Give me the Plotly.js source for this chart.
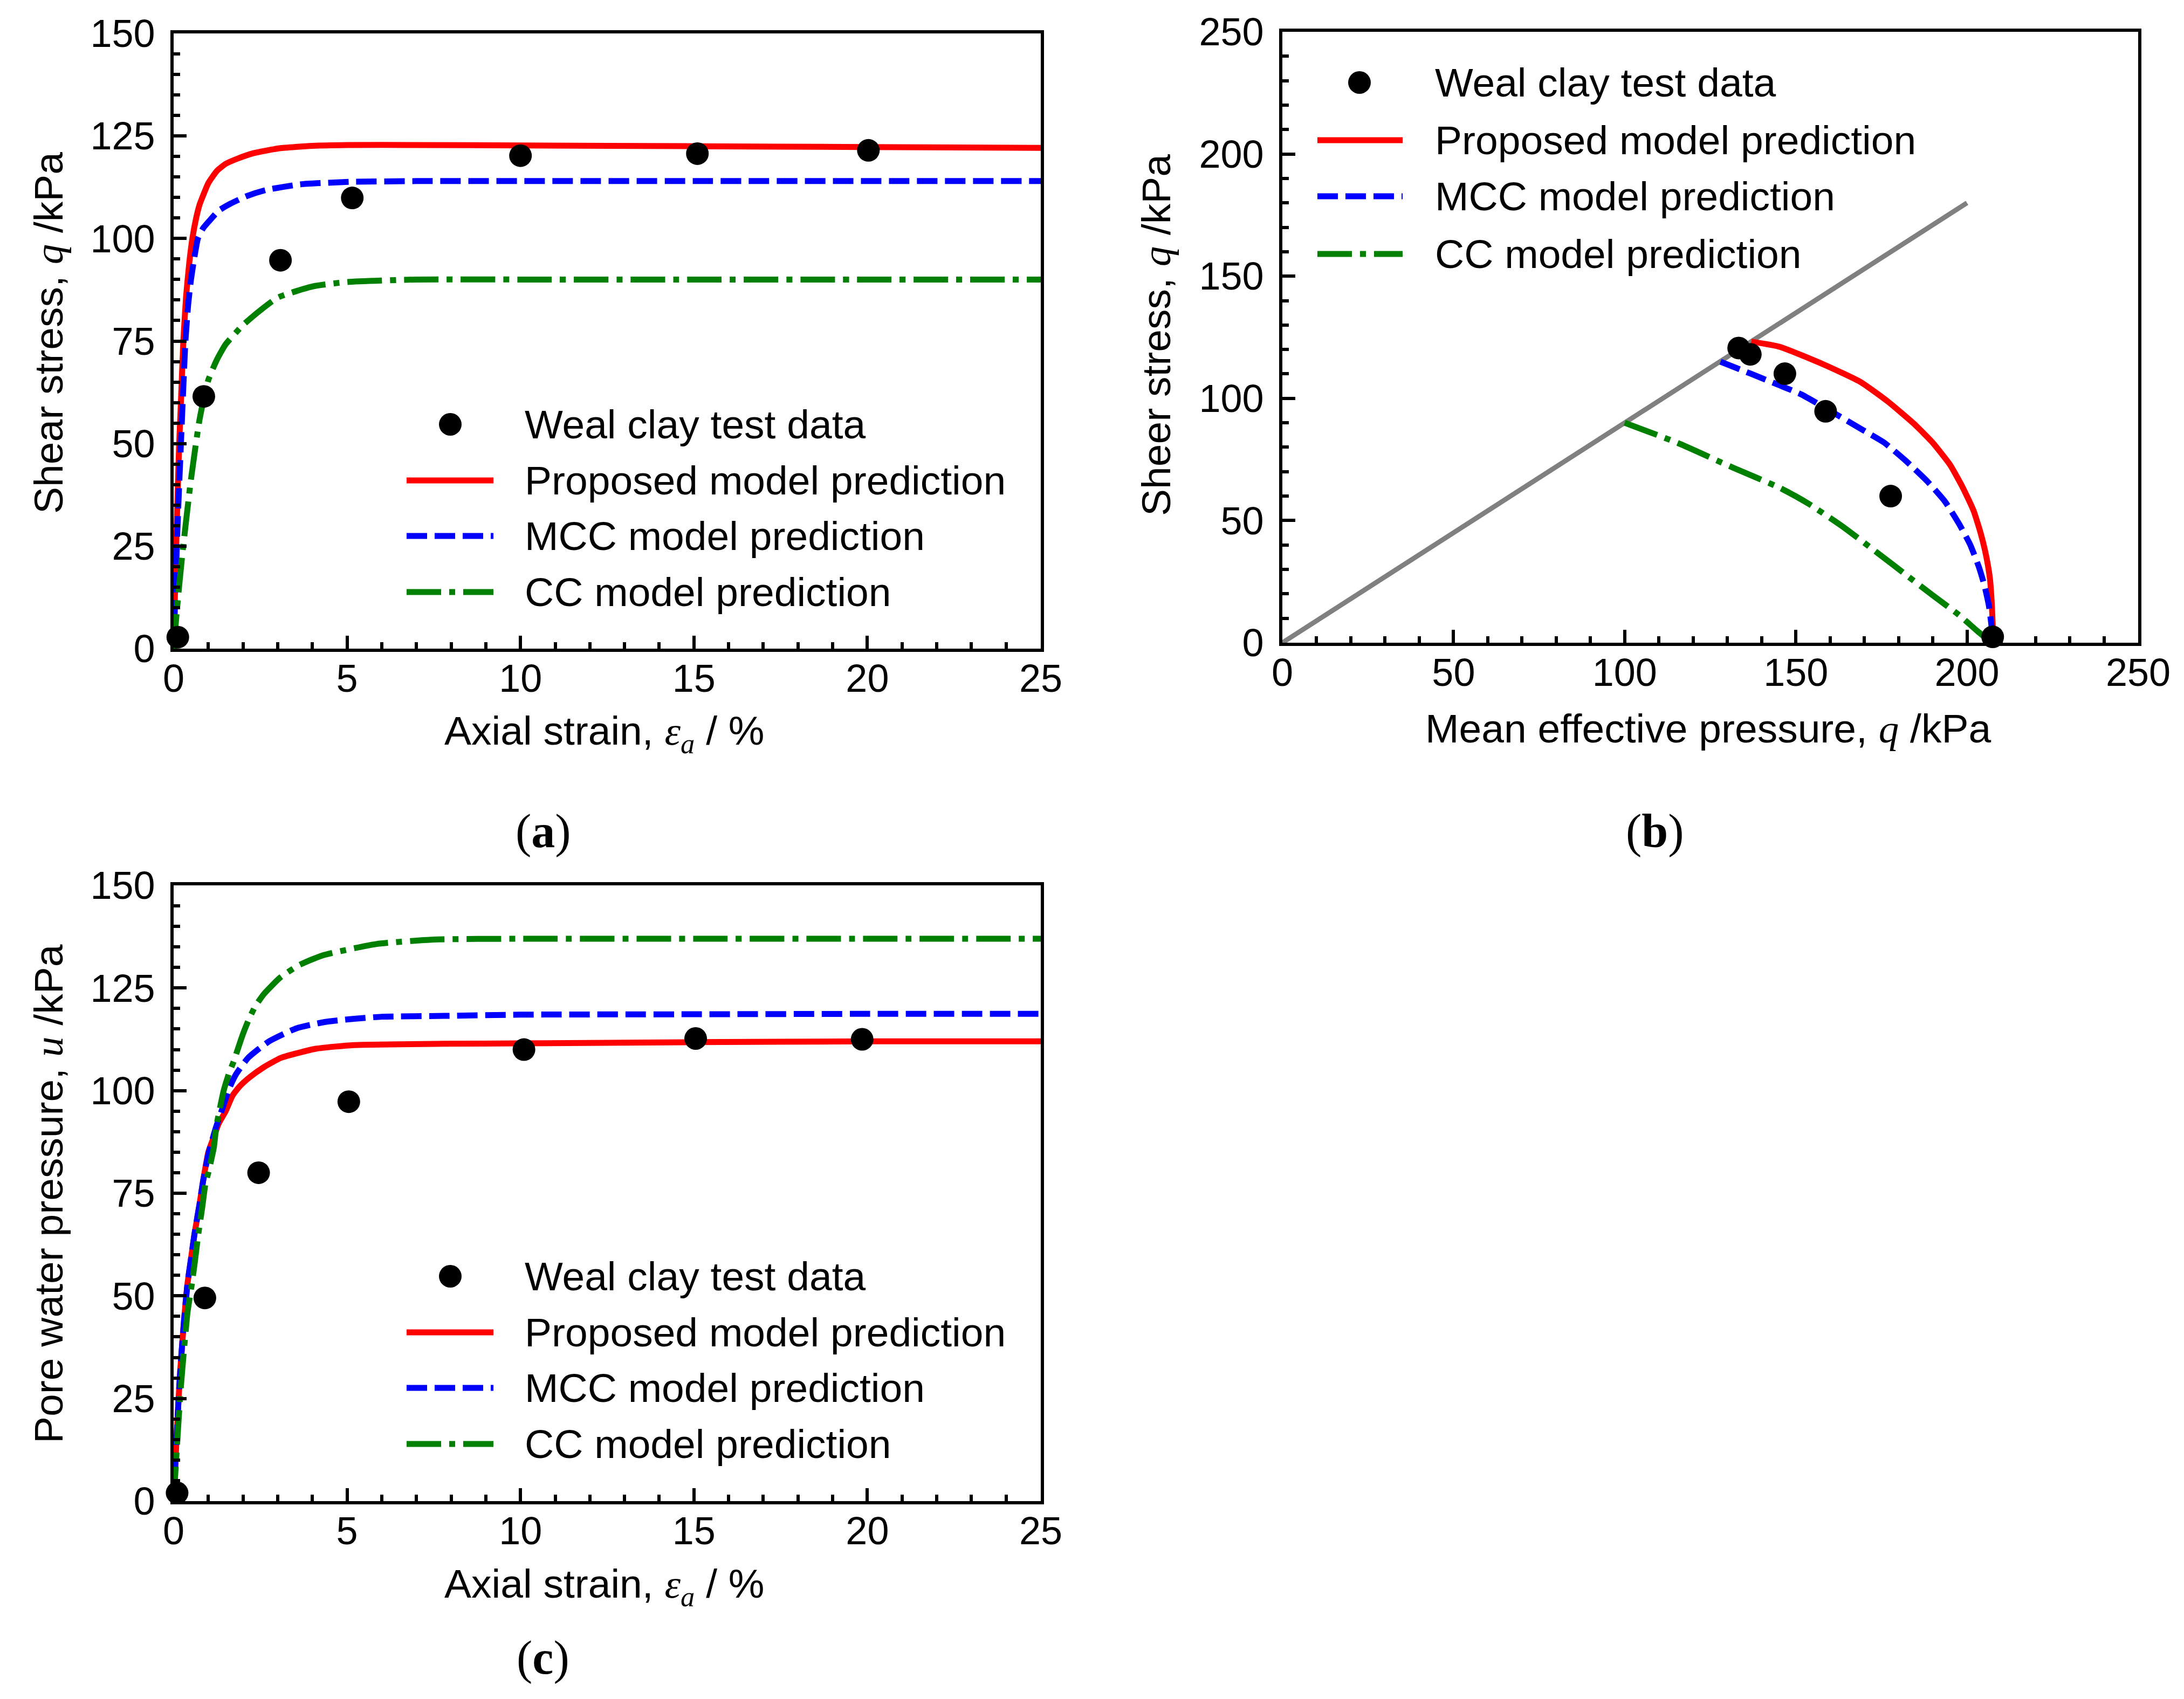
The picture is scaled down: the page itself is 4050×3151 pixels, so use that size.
<!DOCTYPE html>
<html>
<head>
<meta charset="utf-8">
<script src="https://cdn.plot.ly/plotly-3.0.1.min.js"></script>
<style>
  body { margin: 0; background: #fff; }
  #chart { width: 4050px; height: 3151px; }
</style>
</head>
<body>
<div id="chart"></div>
<script>
var W = 4050, H = 3151;

/* (a) shear stress vs axial strain */
var strainTest_a = [0.12, 0.87, 3.08, 5.15, 10.0, 15.1, 20.03];
var qTest_a = [2.8, 61.5, 94.7, 109.9, 120.2, 120.7, 121.5];
var strainProp_a = [0, 0.04, 0.08, 0.12, 0.16, 0.2, 0.28, 0.36, 0.45, 0.54, 0.65, 0.75, 0.85, 1.0, 1.25, 1.5, 1.85, 2.3, 3.05, 4, 5, 7, 10, 15, 20, 25];
var qProp_a = [0, 14, 27, 39, 50, 58, 75, 86, 94, 100, 105, 108.3, 110.5, 113.5, 116.5, 118.2, 119.5, 120.8, 122, 122.6, 122.8, 122.8, 122.7, 122.5, 122.3, 122.1];
var strainMcc_a = [0, 0.05, 0.1, 0.15, 0.2, 0.27, 0.34, 0.42, 0.5, 0.6, 0.7, 0.85, 1.04, 1.3, 1.64, 2.1, 2.65, 3.65, 5.05, 7, 10, 15, 20, 25];
var qMcc_a = [0, 14, 27, 38, 48, 62, 75, 84, 90, 95.5, 100, 102.5, 104.4, 106.8, 108.5, 110.3, 111.8, 113.2, 113.8, 114, 114, 114, 114, 114];
var strainCc_a = [0, 0.1, 0.25, 0.5, 0.75, 1, 1.25, 1.5, 2, 2.5, 3, 4, 5, 7, 10, 15, 20, 25];
var qCc_a = [0, 10, 23, 41.3, 56, 65.5, 70.5, 74.2, 78.9, 82.5, 85.6, 88.3, 89.4, 90, 90, 90, 90, 90];

/* (b) stress paths */
var pTest_b = [133.3, 136.7, 146.8, 158.7, 177.7, 207.5];
var qTest_b = [120.6, 118, 110.1, 94.7, 60, 2.4];
var cslP = [0, 200];
var cslQ = [0, 180];
var pProp_b = [137, 145.3, 158.4, 168.9, 176.8, 184.6, 189.9, 195.1, 198.8, 201.9, 204, 205.6, 206.7, 207.2, 207.5, 207.6];
var qProp_b = [123.2, 121.1, 113.7, 106.7, 98.8, 89.5, 82, 72.7, 63.4, 54.1, 44.8, 35.5, 26.2, 16.9, 7.6, 0];
var pMcc_b = [128, 137, 145.3, 151.6, 161, 168.9, 175.7, 182, 188.3, 193.5, 197.7, 200.9, 203.5, 205.1, 206.4, 207.1, 207.5];
var qMcc_b = [115, 110, 105.3, 101.6, 94.1, 87.6, 82, 74.6, 66.2, 57.9, 48.6, 40.2, 30.9, 23.4, 15.1, 7.6, 0];
var pCc_b = [100, 115.4, 131.7, 145.3, 153.7, 163.6, 174.1, 182, 189.9, 197.7, 203, 207.2];
var qCc_b = [90, 81.8, 71.6, 63.4, 56.9, 47.6, 36.5, 28, 19.5, 11.3, 4.8, 0];

/* (c) pore water pressure vs axial strain */
var strainTest_c = [0.1, 0.9, 2.45, 5.05, 10.1, 15.05, 19.85];
var uTest_c = [2, 49.5, 80, 97.3, 110, 112.7, 112.5];
var strainProp_c = [0, 0.05, 0.1, 0.15, 0.2, 0.3, 0.4, 0.5, 0.6, 0.75, 0.85, 1.0, 1.15, 1.3, 1.5, 1.7, 1.9, 2.2, 2.6, 3.1, 4.1, 5.2, 7.8, 10, 15, 20, 25];
var uProp_c = [0, 9, 18, 26, 33, 44, 53, 59, 65, 72.5, 78, 85, 88.5, 92, 95, 98.8, 101, 103.3, 105.7, 108, 110.2, 111.1, 111.4, 111.5, 111.8, 112, 112];
var strainMcc_c = [0, 0.05, 0.1, 0.15, 0.2, 0.3, 0.4, 0.5, 0.6, 0.75, 0.85, 1.0, 1.2, 1.4, 1.6, 1.8, 2.15, 2.75, 3.55, 4.35, 5.2, 6, 7.8, 10, 15, 20, 25];
var uMcc_c = [0, 9, 18, 26, 33, 44, 53, 59, 65, 72.5, 78, 84.5, 90.5, 95.5, 100.5, 104, 108, 112, 115.2, 116.7, 117.5, 118, 118.2, 118.5, 118.6, 118.7, 118.7];
var strainCc_c = [0, 0.05, 0.1, 0.2, 0.3, 0.4, 0.53, 0.61, 0.71, 0.82, 0.92, 1.0, 1.16, 1.23, 1.44, 1.6, 1.73, 1.99, 2.15, 2.35, 2.61, 3.08, 3.6, 4.28, 5.84, 7.5, 10, 15, 20, 25];
var uCc_c = [0, 7, 14, 27, 37, 46, 53.2, 58.2, 65, 71.3, 77.5, 80, 86.2, 91.2, 99.9, 104.3, 107.1, 113.6, 117, 120.5, 123.6, 127.6, 130.5, 132.9, 135.7, 136.8, 137, 137, 137, 137];

var legendNames = ['Weal clay test data', 'Proposed model prediction', 'MCC model prediction', 'CC model prediction'];

var SANS = 'Liberation Sans, Arial, sans-serif';
var SERIF = 'Liberation Serif, Times New Roman, serif';
var RED = '#ff0000', BLUE = '#0000ff', GREEN = '#008000', GRAY = '#808080';
var DASH_MCC = '38px,14px';
var DASH_CC = '64px,15px,11px,15px';
var LW = 11;
var TXT = 75;

function px(x) { return x / W; }
function py(y) { return 1 - y / H; }
function it(s) { return '<span style="font-family:' + SERIF + '"><i>' + s + '</i></span>'; }

function lineTrace(x, y, color, dash, xa, ya) {
    return { x: x, y: y, xaxis: xa, yaxis: ya, type: 'scatter', mode: 'lines',
             line: { color: color, width: LW, dash: dash, shape: 'spline', smoothing: 0.5 },
             hoverinfo: 'skip', showlegend: false };
}
function dotTrace(x, y, xa, ya) {
    return { x: x, y: y, xaxis: xa, yaxis: ya, type: 'scatter', mode: 'markers', cliponaxis: false,
             marker: { color: '#000', size: 42 }, hoverinfo: 'skip', showlegend: false };
}

function axis(domain, range, dtick, minorDtick, anchor, standoff) {
    return {
        domain: domain, range: range, dtick: dtick, tick0: 0, anchor: anchor,
        ticks: 'inside', ticklen: 24, tickwidth: 6, tickcolor: '#000',
        minor: { ticks: 'inside', ticklen: 12, tickwidth: 6, tickcolor: '#000', dtick: minorDtick, showgrid: false },
        showline: true, linewidth: 6, linecolor: '#000', mirror: true,
        showgrid: false, zeroline: false, fixedrange: true,
        ticklabelstandoff: standoff,
        tickfont: { family: SANS, size: 72, color: '#000' }
    };
}

var shapes = [];
var annotations = [];

/* hand made legend so the sample lines are as long as in the figure */
function legend(markX, lineX0, lineX1, textX, ys) {
    shapes.push({ type: 'circle', xref: 'paper', yref: 'paper', xsizemode: 'pixel', ysizemode: 'pixel',
                  xanchor: px(markX), yanchor: py(ys[0]), x0: -21, x1: 21, y0: -21, y1: 21,
                  fillcolor: '#000', line: { width: 0 } });
    var styles = [[RED, 'solid'], [BLUE, DASH_MCC], [GREEN, DASH_CC]];
    for (var i = 0; i < 3; i++) {
        shapes.push({ type: 'line', xref: 'paper', yref: 'paper',
                      x0: px(lineX0), x1: px(lineX1), y0: py(ys[i + 1]), y1: py(ys[i + 1]),
                      line: { color: styles[i][0], width: LW, dash: styles[i][1] } });
    }
    for (var j = 0; j < 4; j++) {
        annotations.push({ text: legendNames[j], xref: 'paper', yref: 'paper', x: px(textX), y: py(ys[j]),
                           xanchor: 'left', yanchor: 'middle', showarrow: false,
                           font: { family: SANS, size: TXT, color: '#000' } });
    }
}

function label(text, x, y, angle, font) {
    annotations.push({ text: text, xref: 'paper', yref: 'paper', x: px(x), y: py(y),
                       xanchor: 'center', yanchor: 'middle', showarrow: false, textangle: angle || 0,
                       font: font || { family: SANS, size: TXT, color: '#000' } });
}

legend(835, 754, 915, 971, [787, 891, 994, 1098]);
legend(2521, 2443, 2601, 2659, [153, 260, 364, 471]);
legend(835, 754, 915, 971, [2367, 2471, 2574, 2678]);

label('Axial strain, ' + it('ε') + '<sub>' + it('a') + '</sub> / %', 1121, 1361);
label('Shear stress, ' + it('q') + ' /kPa', 90, 618, -90);
label('Mean effective pressure, ' + it('q') + ' /kPa', 3167, 1351);
label('Sheer stress, ' + it('q') + ' /kPa', 2144, 622, -90);
label('Axial strain, ' + it('ε') + '<sub>' + it('a') + '</sub> / %', 1121, 2942);
label('Pore water pressure, ' + it('u') + ' /kPa', 90, 2214, -90);

var capFont = { family: SERIF, size: 88, color: '#000' };
label('(<b>a</b>)', 1007, 1542, 0, capFont);
label('(<b>b</b>)', 3069, 1542, 0, capFont);
label('(<b>c</b>)', 1007, 3074, 0, capFont);

var data = [
    lineTrace(strainProp_a, qProp_a, RED, 'solid', 'x', 'y'),
    lineTrace(strainMcc_a, qMcc_a, BLUE, DASH_MCC, 'x', 'y'),
    lineTrace(strainCc_a, qCc_a, GREEN, DASH_CC, 'x', 'y'),
    dotTrace(strainTest_a, qTest_a, 'x', 'y'),

    { x: cslP, y: cslQ, xaxis: 'x2', yaxis: 'y2', type: 'scatter', mode: 'lines',
      line: { color: GRAY, width: 9 }, hoverinfo: 'skip', showlegend: false },
    lineTrace(pProp_b, qProp_b, RED, 'solid', 'x2', 'y2'),
    lineTrace(pMcc_b, qMcc_b, BLUE, DASH_MCC, 'x2', 'y2'),
    lineTrace(pCc_b, qCc_b, GREEN, DASH_CC, 'x2', 'y2'),
    dotTrace(pTest_b, qTest_b, 'x2', 'y2'),

    lineTrace(strainProp_c, uProp_c, RED, 'solid', 'x3', 'y3'),
    lineTrace(strainMcc_c, uMcc_c, BLUE, DASH_MCC, 'x3', 'y3'),
    lineTrace(strainCc_c, uCc_c, GREEN, DASH_CC, 'x3', 'y3'),
    dotTrace(strainTest_c, uTest_c, 'x3', 'y3')
];

var layout = {
    width: W, height: H,
    margin: { l: 0, r: 0, t: 0, b: 0 },
    paper_bgcolor: '#fff', plot_bgcolor: '#fff',
    showlegend: false, hovermode: false,
    xaxis: axis([px(322), px(1930)], [0, 25], 5, 1, 'y', -12),
    yaxis: axis([py(1203), py(62)], [0, 150], 25, 5, 'x', 14),
    xaxis2: axis([px(2378), px(3965)], [0, 250], 50, 10, 'y2', -12),
    yaxis2: axis([py(1192), py(59)], [0, 250], 50, 10, 'x2', 14),
    xaxis3: axis([px(322), px(1930)], [0, 25], 5, 1, 'y3', -12),
    yaxis3: axis([py(2784), py(1642)], [0, 150], 25, 5, 'x3', 14),
    shapes: shapes,
    annotations: annotations
};

Plotly.newPlot('chart', data, layout, { staticPlot: true });
</script>
</body>
</html>
